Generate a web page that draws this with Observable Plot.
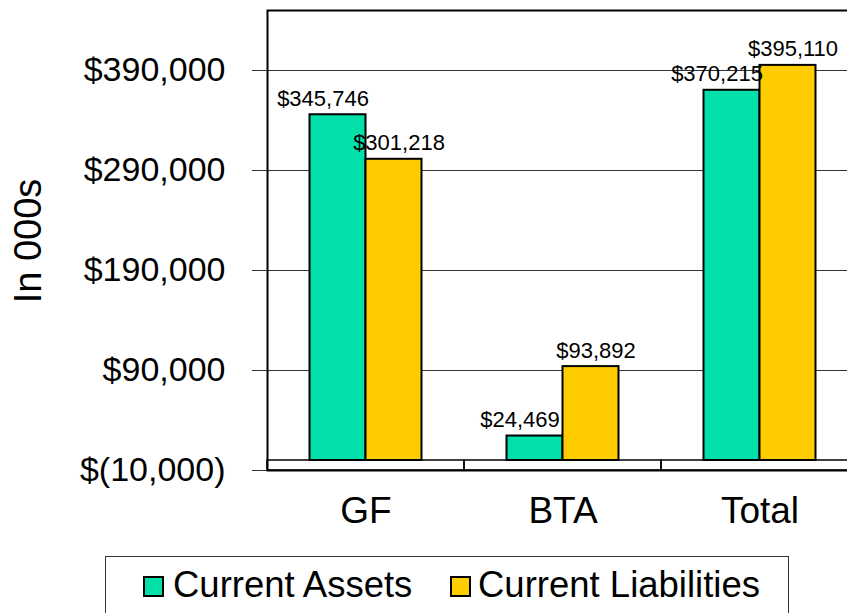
<!DOCTYPE html>
<html>
<head>
<meta charset="utf-8">
<script src="https://cdn.jsdelivr.net/npm/d3@7"></script>
<script src="https://cdn.jsdelivr.net/npm/@observablehq/plot@0.6"></script>
<style>
  html, body { margin: 0; padding: 0; background: #fff; overflow: hidden; }
  #wrap { position: relative; width: 847px; height: 613px; overflow: hidden; font-family: "Liberation Sans", Arial, sans-serif; }
  #chart svg { max-width: none !important; }
  #legend { position: absolute; left: 105px; top: 556px; width: 684px; height: 80px; border: 1px solid #333; box-sizing: border-box; background: #fff; }
  .sw { position: absolute; top: 19px; width: 21px; height: 21px; border: 2px solid #000; box-sizing: border-box; }
  .lt { position: absolute; top: 8px; font-size: 36.5px; line-height: 40px; color: #000; white-space: nowrap; }
  #ytitle { position: absolute; left: 28px; top: 241px; transform: translate(-50%, -50%) rotate(-90deg); font-size: 38px; line-height: 40px; white-space: nowrap; color: #000; }
</style>
</head>
<body>
<div id="wrap"><div id="chart"></div><div id="ytitle"></div><div id="legend"></div></div>
<script>
const categories = ["GF", "BTA", "Total"];
const currentAssets = [345746, 24469, 370215];
const currentLiabilities = [301218, 93892, 395110];
const seriesNames = ["Current Assets", "Current Liabilities"];
const seriesColors = ["#00E0A8", "#FFCC00"];
const yTicks = [-10000, 90000, 190000, 290000, 390000];
const yMin = -10000;
const yMax = 450000;
const yTitle = "In 000s";

const data = categories.map((c, i) => ({category: c, assets: currentAssets[i], liabilities: currentLiabilities[i]}));
const money = v => v < 0 ? "$(" + d3.format(",")(-v) + ")" : "$" + d3.format(",")(v);

const chart = Plot.plot({
  width: 858,
  height: 545,
  marginLeft: 267,
  marginRight: 0,
  marginTop: 10,
  marginBottom: 75,
  style: {fontFamily: "Liberation Sans, Arial, sans-serif", fontSize: "34px", background: "white", color: "black", overflow: "visible", maxWidth: "none"},
  x: {domain: categories, padding: 0},
  y: {domain: [yMin, yMax]},
  marks: [
    Plot.gridY(yTicks.filter(d => d > yMin), {stroke: "#333", strokeOpacity: 1, strokeWidth: 1}),
    Plot.barY(data, {x: "category", y1: () => yMin, y2: () => 0, fill: "none", stroke: "black", strokeWidth: 1.5}),
    Plot.barY(data, {x: "category", y: "assets", fill: seriesColors[0], stroke: "black", strokeWidth: 2, insetLeft: 42.5, insetRight: 98.5}),
    Plot.barY(data, {x: "category", y: "liabilities", fill: seriesColors[1], stroke: "black", strokeWidth: 2, insetLeft: 98.5, insetRight: 42.5}),
    Plot.text(data, {x: "category", y: "assets", text: d => money(d.assets), dx: -43, dy: -9, lineAnchor: "bottom", fontSize: 22, fill: "black"}),
    Plot.text(data, {x: "category", y: "liabilities", text: d => money(d.liabilities), dx: 33, dy: -9, lineAnchor: "bottom", fontSize: 22, fill: "black"}),
    Plot.frame({stroke: "black", strokeWidth: 2}),
    Plot.axisY({ticks: yTicks, tickSize: 15, tickPadding: 27, tickFormat: money, fontSize: 34, label: null, stroke: "#333"}),
    Plot.axisX({tickSize: 0, tickPadding: 26, fontSize: 37, label: null})
  ]
});
document.getElementById("chart").appendChild(chart);
document.getElementById("ytitle").textContent = yTitle;

const legend = document.getElementById("legend");
const swX = [37, 344];
const txX = [67, 372];
seriesNames.forEach((name, i) => {
  const sw = document.createElement("div");
  sw.className = "sw";
  sw.style.left = swX[i] + "px";
  sw.style.background = seriesColors[i];
  legend.appendChild(sw);
  const t = document.createElement("div");
  t.className = "lt";
  t.style.left = txX[i] + "px";
  t.textContent = name;
  legend.appendChild(t);
});
</script>
</body>
</html>
